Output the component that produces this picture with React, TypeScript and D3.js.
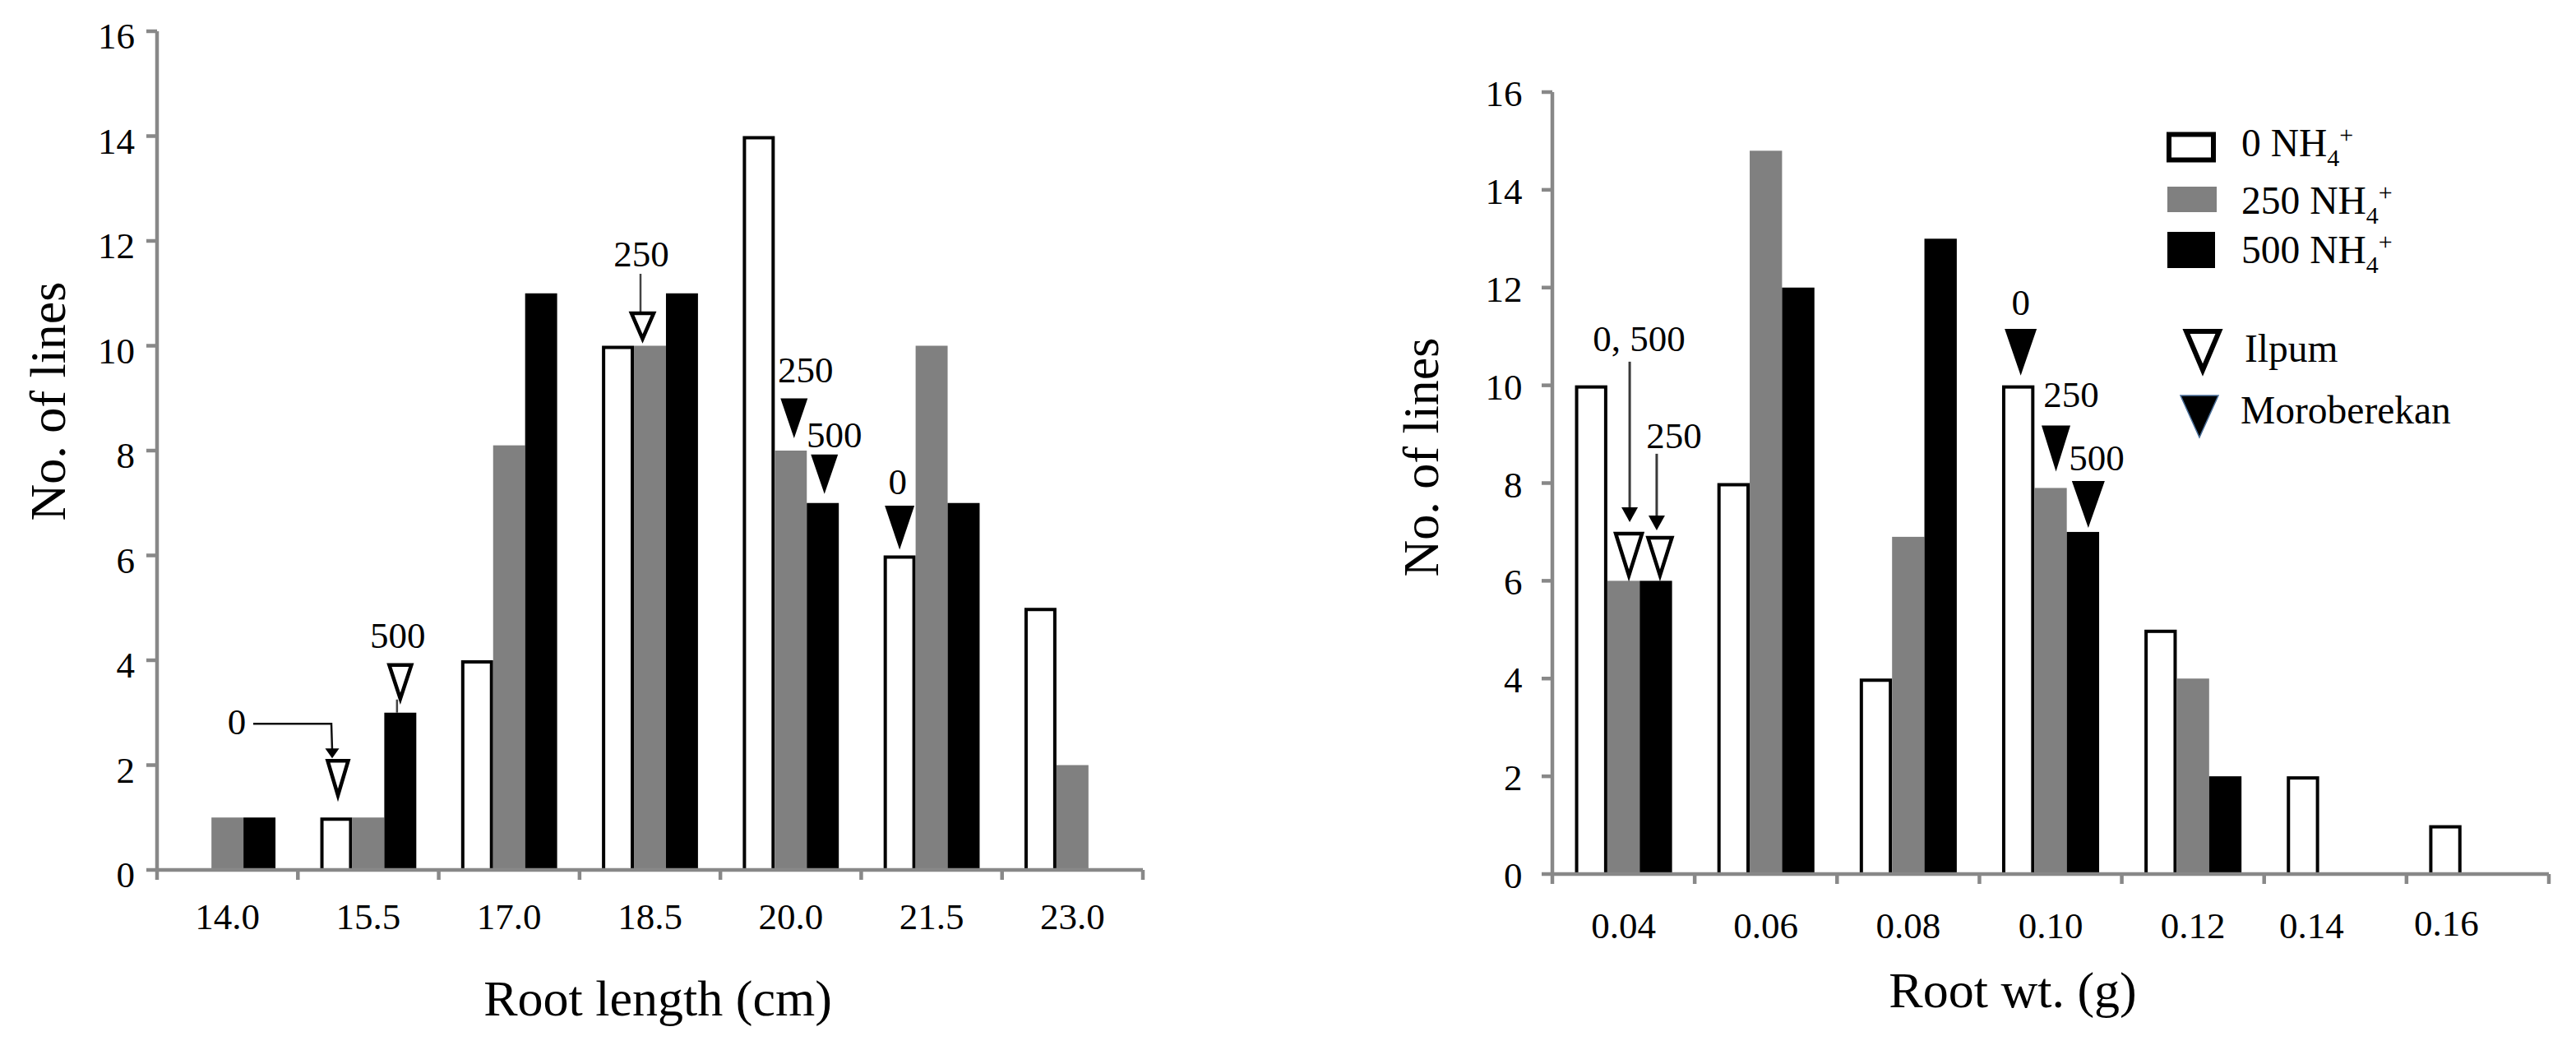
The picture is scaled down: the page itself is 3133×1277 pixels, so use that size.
import React from "react";
import * as d3 from "d3";

const FONT = '"Liberation Serif", "Times New Roman", serif';

// Root length classes (cm) and number of lines per NH4+ level
const lengthBins = ["14.0", "15.5", "17.0", "18.5", "20.0", "21.5", "23.0"];
const lengthNH0 = [0, 1, 4, 10, 14, 6, 5];
const lengthNH250 = [1, 1, 8.1, 10, 8, 10, 2];
const lengthNH500 = [1, 3, 11, 11, 7, 7, 0];

// Root weight classes (g) and number of lines per NH4+ level
const weightBins = ["0.04", "0.06", "0.08", "0.10", "0.12", "0.14", "0.16"];
const weightNH0 = [10, 8, 4, 10, 5, 2, 1];
const weightNH250 = [6, 14.8, 6.9, 7.9, 4, 0, 0];
const weightNH500 = [6, 12, 13, 7, 2, 0, 0];

const yTicks = [0, 2, 4, 6, 8, 10, 12, 14, 16];
const nh4Levels = ["0", "250", "500"];

// Parent cultivar positions (which bar the marker sits on)
const lengthMarkers = [
  { bin: "15.5", level: "0", cultivar: "Ilpum", label: "0" },
  { bin: "15.5", level: "500", cultivar: "Ilpum", label: "500" },
  { bin: "18.5", level: "250", cultivar: "Ilpum", label: "250" },
  { bin: "20.0", level: "250", cultivar: "Moroberekan", label: "250" },
  { bin: "20.0", level: "500", cultivar: "Moroberekan", label: "500" },
  { bin: "21.5", level: "0", cultivar: "Moroberekan", label: "0" },
];
const weightMarkers = [
  { bin: "0.04", level: "250", cultivar: "Ilpum", label: "0, 500" },
  { bin: "0.04", level: "500", cultivar: "Ilpum", label: "250" },
  { bin: "0.10", level: "0", cultivar: "Moroberekan", label: "0" },
  { bin: "0.10", level: "250", cultivar: "Moroberekan", label: "250" },
  { bin: "0.10", level: "500", cultivar: "Moroberekan", label: "500" },
];

// Placement of each marker relative to its bar (same order as above)
const lengthMarkerLayout = [
  { dx: 2, gap: 22, w: 31, h: 49, ldx: -121, rise: 30, leader: { type: "elbow", hx0: -101, sdx: -6, ey: 43, tipUp: 1, hw: 17, hh: 12 } },
  { dx: 0, gap: 12, w: 33, h: 48, ldx: -3, rise: 19, leader: { type: "stemDown", sdx: -4 } },
  { dx: -9, gap: 3.5, w: 33, h: 38, ldx: -10.5, rise: 55, leader: { type: "stemUp", sdx: -11.5, len: 46 } },
  { dx: 4, gap: 15, w: 33, h: 48.5, ldx: 18, rise: 19.5 },
  { dx: 2, gap: 11, w: 33, h: 48, ldx: 14, rise: 9 },
  { dx: 0, gap: 7, w: 36, h: 53.5, ldx: -2.5, rise: 14.4 },
];
const weightMarkerLayout = [
  { dx: 6.5, gap: 1.5, w: 38, h: 58, ldx: 19, rise: 220, leader: { type: "arrow", sdx: 7.5, from: 207, to: 12, hw: 20, hh: 18 } },
  { dx: 5, gap: 1.5, w: 35, h: 53, ldx: 22, rise: 107, leader: { type: "arrow", sdx: 1, from: 100, to: 7, hw: 20, hh: 18 } },
  { dx: 3, gap: 12, w: 39, h: 56.7, ldx: 3, rise: 17 },
  { dx: 6.5, gap: 20, w: 35, h: 56, ldx: 25, rise: 22 },
  { dx: 6.5, gap: 5, w: 40, h: 57, ldx: 16.6, rise: 13 },
];

const AXIS = "#888888";
const FILLS: Record<string, string> = { "0": "#ffffff", "250": "#808080", "500": "#000000" };

type Frame = {
  x0: number; x1: number; yZero: number; yTop: number;
  yLabelRight: number; yLabelDrop: number; xLabelBase: number;
  yTitleX: number; yTitleY: number; xTitleX: number; xTitleBase: number;
};

function Histogram(props: {
  bins: string[]; series: number[][]; frame: Frame; xTitle: string;
  markers: { bin: string; level: string; cultivar: string; label: string }[];
  layout: any[]; labelNudge?: Record<string, [number, number]>;
}) {
  const { bins, series, frame: f, xTitle, markers, layout, labelNudge = {} } = props;
  const x = d3.scaleBand<string>().domain(bins).range([f.x0, f.x1]).padding(0);
  const inner = d3.scaleBand<string>().domain(nh4Levels).range([0, x.bandwidth()]).paddingInner(0).paddingOuter(0.7);
  const y = d3.scaleLinear().domain([0, 16]).range([f.yZero, f.yTop]);
  const bw = inner.bandwidth();
  const bounds = d3.range(bins.length + 1).map((i) => f.x0 + i * x.step());

  const bars: JSX.Element[] = [];
  bins.forEach((b, i) => {
    nh4Levels.forEach((lv, k) => {
      const v = series[k][i];
      if (!v) return;
      const bx = (x(b) as number) + (inner(lv) as number);
      const top = y(v);
      if (lv === "0") {
        bars.push(
          <rect key={`${b}-${lv}`} x={bx + 2} y={top + 2} width={bw - 4} height={f.yZero - top - 2}
            fill="#fff" stroke="#000" strokeWidth={4} />
        );
      } else {
        bars.push(
          <rect key={`${b}-${lv}`} x={bx} y={top} width={bw} height={f.yZero - top} fill={FILLS[lv]} />
        );
      }
    });
  });

  const marks = markers.map((m, i) => {
    const L = layout[i];
    const k = nh4Levels.indexOf(m.level);
    const v = series[k][bins.indexOf(m.bin)];
    const bx = (x(m.bin) as number) + (inner(m.level) as number) + bw / 2;
    const by = y(v);
    const cx = bx + L.dx;
    const tip = by - L.gap;
    const top = tip - L.h;
    const open = m.cultivar === "Ilpum";
    const tri = open
      ? `${cx - L.w / 2 + 3},${top + 2} ${cx + L.w / 2 - 3},${top + 2} ${cx},${tip - 5}`
      : `${cx - L.w / 2},${top} ${cx + L.w / 2},${top} ${cx},${tip}`;
    const parts: JSX.Element[] = [];
    const ld = L.leader;
    if (ld && ld.type === "stemDown") {
      parts.push(<line key="s" x1={bx + ld.sdx} x2={bx + ld.sdx} y1={tip - 4} y2={by} stroke="#444" strokeWidth={2.5} />);
    }
    if (ld && ld.type === "stemUp") {
      parts.push(<line key="s" x1={bx + ld.sdx} x2={bx + ld.sdx} y1={top - ld.len} y2={top} stroke="#444" strokeWidth={2.5} />);
    }
    if (ld && ld.type === "arrow") {
      const ax = bx + ld.sdx;
      const aTip = top - ld.to;
      parts.push(<line key="s" x1={ax} x2={ax} y1={top - ld.from} y2={aTip - ld.hh + 2} stroke="#3a3a3a" strokeWidth={3} />);
      parts.push(<polygon key="h" points={`${ax - ld.hw / 2},${aTip - ld.hh} ${ax + ld.hw / 2},${aTip - ld.hh} ${ax},${aTip}`} fill="#000" />);
    }
    if (ld && ld.type === "elbow") {
      const ax = bx + ld.sdx;
      const ey = top - ld.ey;
      const aTip = top - ld.tipUp;
      parts.push(<polyline key="s" points={`${bx + ld.hx0},${ey} ${ax},${ey} ${ax + 1},${aTip - ld.hh + 2}`} fill="none" stroke="#111" strokeWidth={2.5} />);
      parts.push(<polygon key="h" points={`${ax + 1 - ld.hw / 2},${aTip - ld.hh} ${ax + 1 + ld.hw / 2},${aTip - ld.hh} ${ax + 1},${aTip}`} fill="#000" />);
    }
    return (
      <g key={`m${i}`}>
        {parts}
        <polygon points={tri} fill={open ? "#fff" : "#000"} stroke={open ? "#000" : "none"}
          strokeWidth={open ? 4.5 : 0} strokeLinejoin="miter" />
        <text x={bx + L.ldx} y={top - L.rise} textAnchor="middle" fontSize={45} fontFamily={FONT} fill="#000">
          {m.label}
        </text>
      </g>
    );
  });

  return (
    <g>
      {bars}
      {/* axes */}
      <line x1={f.x0} x2={f.x0} y1={f.yTop} y2={f.yZero} stroke={AXIS} strokeWidth={4.5} />
      <line x1={f.x0 - 2} x2={f.x1} y1={f.yZero} y2={f.yZero} stroke={AXIS} strokeWidth={4.5} />
      {yTicks.map((t) => (
        <g key={`yt${t}`}>
          <line x1={f.x0 - 13} x2={f.x0} y1={y(t)} y2={y(t)} stroke={AXIS} strokeWidth={4.5} />
          <text x={f.yLabelRight} y={y(t) + f.yLabelDrop} textAnchor="end" fontSize={45} fontFamily={FONT} fill="#000">
            {t}
          </text>
        </g>
      ))}
      {bounds.map((bx, i) => (
        <line key={`xt${i}`} x1={bx} x2={bx} y1={f.yZero} y2={f.yZero + 12} stroke={AXIS} strokeWidth={4.5} />
      ))}
      {bins.map((b) => {
        const n = labelNudge[b] || [0, 0];
        return (
          <text key={`xl${b}`} x={(x(b) as number) + x.bandwidth() / 2 + n[0]} y={f.xLabelBase + n[1]}
            textAnchor="middle" fontSize={45} fontFamily={FONT} fill="#000">
            {b}
          </text>
        );
      })}
      <text transform={`translate(${f.yTitleX},${f.yTitleY}) rotate(-90)`} textAnchor="middle"
        fontSize={62} fontFamily={FONT} fill="#000">
        No. of lines
      </text>
      <text x={f.xTitleX} y={f.xTitleBase} textAnchor="middle" fontSize={62} fontFamily={FONT} fill="#000">
        {xTitle}
      </text>
      {marks}
    </g>
  );
}

function NHLabel(props: { x: number; y: number; level: string }) {
  return (
    <text x={props.x} y={props.y} fontSize={47.5} fontFamily={FONT} fill="#000">
      {props.level} NH
      <tspan fontSize={30} dy={12}>4</tspan>
      <tspan fontSize={30} dy={-28}>+</tspan>
    </text>
  );
}

export default function App() {
  const leftFrame: Frame = {
    x0: 191, x1: 1390, yZero: 1058, yTop: 38,
    yLabelRight: 164, yLabelDrop: 21, xLabelBase: 1130,
    yTitleX: 79, yTitleY: 488, xTitleX: 800, xTitleBase: 1235,
  };
  const rightFrame: Frame = {
    x0: 1888, x1: 3100, yZero: 1063, yTop: 112,
    yLabelRight: 1851.5, yLabelDrop: 17, xLabelBase: 1141,
    yTitleX: 1749, yTitleY: 556, xTitleX: 2448, xTitleBase: 1225,
  };

  return (
    <svg width={3133} height={1277} viewBox="0 0 3133 1277"
      style={{ position: "absolute", left: 0, top: 0, display: "block", background: "#fff" }}>
      <rect x={0} y={0} width={3133} height={1277} fill="#fff" />
      <Histogram bins={lengthBins} series={[lengthNH0, lengthNH250, lengthNH500]} frame={leftFrame}
        xTitle="Root length (cm)" markers={lengthMarkers} layout={lengthMarkerLayout} />
      <Histogram bins={weightBins} series={[weightNH0, weightNH250, weightNH500]} frame={rightFrame}
        xTitle="Root wt. (g)" markers={weightMarkers} layout={weightMarkerLayout}
        labelNudge={{ "0.14": [-29, 0], "0.16": [-38, -3] }} />

      {/* legend */}
      <g>
        <rect x={2638} y={163.5} width={54} height={31} fill="#fff" stroke="#000" strokeWidth={6} />
        <NHLabel x={2726} y={190} level="0" />
        <rect x={2636} y={227} width={60} height={31} fill="#808080" />
        <NHLabel x={2726} y={260} level="250" />
        <rect x={2636} y={282} width={58} height={44} fill="#000" />
        <NHLabel x={2726} y={320} level="500" />
        <polygon points="2659,403 2699,403 2679,450" fill="#fff" stroke="#000" strokeWidth={6} />
        <text x={2730} y={440} fontSize={47.5} fontFamily={FONT} fill="#000">Ilpum</text>
        <polygon points="2652,481 2698,481 2675,532" fill="#000" stroke="#4a6f9a" strokeWidth={1.5} />
        <text x={2725} y={515} fontSize={47.5} fontFamily={FONT} fill="#000">Moroberekan</text>
      </g>
    </svg>
  );
}
